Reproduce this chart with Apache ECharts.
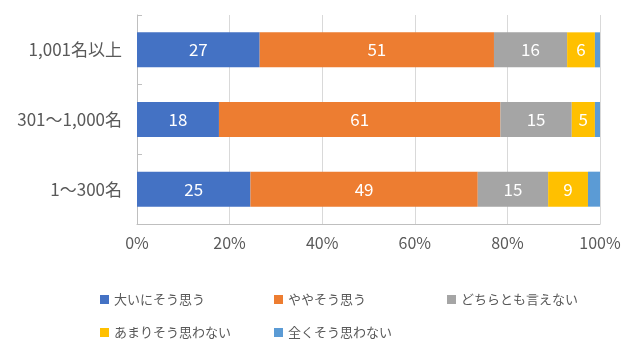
<!DOCTYPE html>
<html>
<head>
<meta charset="utf-8">
<script src="https://cdn.jsdelivr.net/npm/echarts@6/dist/echarts.min.js"></script>
<style>
html, body { margin: 0; padding: 0; background: #fff; }
#chart { width: 631px; height: 352px; }
</style>
</head>
<body>
<div id="chart"></div>
<script>
var categories = ['1,001名以上', '301～1,000名', '1～300名'];
var seriesNames = ['大いにそう思う', 'ややそう思う', 'どちらとも言えない', 'あまりそう思わない', '全くそう思わない'];
var strongYes = [26.5, 17.7, 24.5];
var ratherYes = [50.6, 60.8, 49.1];
var neutral = [15.8, 15.4, 15.2];
var ratherNo = [6.0, 5.0, 8.6];
var strongNo = [1.1, 1.1, 2.6];
var colors = ['#4472C4', '#ED7D31', '#A5A5A5', '#FFC000', '#5B9BD5'];
var xTicks = [0, 20, 40, 60, 80, 100];

var myChart = echarts.init(document.getElementById('chart'));
var font = '"Noto Sans CJK JP", sans-serif';

var allValues = [strongYes, ratherYes, neutral, ratherNo, strongNo];
var series = [];
for (var i = 0; i < seriesNames.length; i++) {
    series.push({
        name: seriesNames[i],
        type: 'bar',
        stack: 'total',
        barWidth: 35,
        data: allValues[i],
        itemStyle: { color: colors[i] },
        label: {
            show: i < 4,
            position: 'inside',
            color: '#fff',
            fontSize: 17,
            fontFamily: font,
            formatter: function (p) { return Math.round(p.value); }
        }
    });
}

// legend positions (two rows like the original)
var legendPos = [[95, 288], [269, 288], [442, 288], [95, 321], [269, 321]];
var legends = [];
for (var j = 0; j < seriesNames.length; j++) {
    legends.push({
        data: [seriesNames[j]],
        left: legendPos[j][0],
        top: legendPos[j][1],
        icon: 'rect',
        itemWidth: 9,
        itemHeight: 9,
        itemGap: 4,
        selectedMode: false,
        textStyle: { color: '#595959', fontSize: 13, fontFamily: font }
    });
}

var option = {
    animation: false,
    color: colors,
    legend: legends,
    grid: { left: 137, right: 31, top: 15, height: 209 },
    xAxis: {
        type: 'value',
        min: 0,
        max: 100,
        interval: 20,
        axisLine: { show: true, lineStyle: { color: '#BFBFBF' } },
        axisTick: { show: false },
        splitLine: { show: true, lineStyle: { color: '#D9D9D9' } },
        axisLabel: {
            color: '#595959',
            fontSize: 16,
            fontFamily: font,
            margin: 11,
            formatter: function (v) { return xTicks.indexOf(v) >= 0 ? v + '%' : ''; }
        }
    },
    yAxis: {
        type: 'category',
        inverse: true,
        data: categories,
        axisLine: { show: true, lineStyle: { color: '#BFBFBF' } },
        axisTick: { show: true, inside: true, length: 5, lineStyle: { color: '#BFBFBF' } },
        axisLabel: { color: '#595959', fontSize: 17, fontFamily: font, margin: 15 }
    },
    series: series
};

option && myChart.setOption(option);
</script>
</body>
</html>
